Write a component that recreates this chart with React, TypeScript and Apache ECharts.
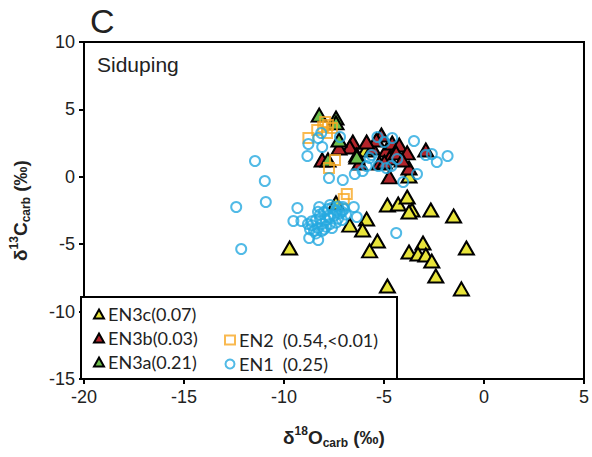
import React, { useEffect, useRef } from "react";
import * as echarts from "echarts";

const xTicks = [-20, -15, -10, -5, 0, 5];
const yTicks = [-15, -10, -5, 0, 5, 10];

const en3c: [number, number][] = [
  [-9.72, -5.28], [-4.83, -2.09], [-4.29, -2.02], [-3.84, -1.5], [-3.6, -2.46],
  [-2.66, -2.46], [-1.52, -2.91], [-5.87, -3.13], [-6.71, -3.58], [-6.07, -3.95],
  [-5.33, -4.76], [-5.72, -5.5], [-3.75, -5.58], [-3.05, -4.91], [-3.3, -5.73],
  [-2.91, -5.8], [-2.61, -6.25], [-2.41, -7.36], [-0.88, -5.28], [-4.83, -8.1],
  [-1.13, -8.32], [-5.92, 1.99], [-3.75, 0.06], [-7.4, -1.94], [-3.75, -2.61],
];
const en3b: [number, number][] = [
  [-6.56, 2.58], [-6.71, 2.21], [-7.25, 2.14], [-8.09, 1.25], [-6.36, 1.62],
  [-5.13, 3.1], [-5.57, 2.14], [-4.88, 1.99], [-4.59, 2.51], [-4.24, 2.36],
  [-3.84, 1.77], [-4.73, 1.39], [-5.23, 1.02], [-2.91, 1.99], [-3.75, 0.65],
  [-4.73, -0.01], [-4.39, 1.77], [-6.22, 1.02], [-5.38, 2.73], [-5.87, 2.58],
  [-4.09, 1.25], [-4.98, 1.1],
];
const en3a: [number, number][] = [
  [-8.24, 4.58], [-7.4, 4.36], [-7.25, 2.73], [-6.36, 1.47], [-7.8, 1.25], [-7.4, 4.0],
];
const en2: [number, number][] = [
  [-8.34, 3.47], [-8.04, 3.69], [-7.8, 3.84], [-7.6, 3.62], [-7.85, 3.25],
  [-8.78, 2.88], [-7.45, 1.25], [-7.75, 0.65], [-6.86, -1.28], [-7.01, -1.65], [-7.94, 4.07],
];
const en1: [number, number][] = [
  [-10.96, -0.31], [-10.91, -1.87], [-8.83, 1.54], [-8.78, 2.43], [-8.29, 2.88],
  [-8.14, 3.25], [-8.09, 2.21], [-7.2, 2.95], [-7.75, -0.09], [-7.06, -0.24],
  [-6.46, 0.21], [-6.07, 0.43], [-5.87, 0.8], [-5.62, 1.62], [-5.72, 1.39],
  [-5.33, 2.95], [-4.98, 2.58], [-4.59, 2.88], [-4.34, 1.32], [-4.63, 0.8],
  [-4.88, 0.65], [-5.28, 0.8], [-4.04, -0.39], [-3.35, 0.21], [-3.5, 2.66],
  [-2.91, 1.62], [-2.61, 1.69], [-2.36, 1.1], [-1.82, 1.54], [-11.45, 1.17],
  [-12.39, -2.24], [-12.14, -5.36], [-9.33, -2.31], [-9.53, -3.28], [-9.13, -3.28],
  [-8.24, -2.24], [-7.7, -2.09], [-7.06, -2.24], [-6.51, -2.24], [-6.36, -2.98],
  [-8.74, -4.54], [-8.29, -4.69], [-4.39, -4.17],
  [-8.6, -3.6], [-8.4, -3.2], [-8.2, -2.8], [-8.0, -2.6], [-7.8, -2.4], [-7.6, -2.3],
  [-7.4, -2.5], [-7.2, -2.7], [-8.5, -4.0], [-8.3, -3.8], [-8.1, -3.5], [-7.9, -3.2],
  [-7.7, -3.0], [-7.5, -2.9], [-7.3, -3.1], [-7.1, -2.6], [-8.7, -3.9], [-8.4, -4.2],
  [-8.1, -4.0], [-7.9, -3.7], [-7.7, -3.5], [-7.4, -3.4], [-7.1, -3.2], [-6.9, -2.8],
  [-8.2, -3.1], [-8.0, -3.9], [-7.6, -3.8], [-8.6, -3.3], [-8.8, -3.5], [-7.8, -2.9],
  [-7.3, -2.2], [-7.0, -2.4], [-8.3, -2.6],
];

const names = ["EN3c(0.07)", "EN3b(0.03)", "EN3a(0.21)", "EN2  (0.54,<0.01)", "EN1  (0.25)"];

export default function App() {
  const ref = useRef<HTMLDivElement>(null);
  useEffect(() => {
    if (!ref.current) return;
    const chart = echarts.init(ref.current, undefined, { renderer: "svg" });
    const tri = (name: string, data: [number, number][], color: string) => ({
      name,
      type: "scatter",
      data,
      symbol: "triangle",
      symbolSize: [15, 13],
      itemStyle: { color, borderColor: "#000", borderWidth: 2, opacity: 1 },
      emphasis: { disabled: true },
    });
    const font = "Liberation Sans, Arial";
    const axisCommon = {
      axisLine: { show: true, onZero: false, lineStyle: { color: "#000", width: 2 } },
      axisTick: { show: true, inside: false, length: 5, lineStyle: { color: "#000", width: 2 } },
      splitLine: { show: false },
      axisLabel: { color: "#222", fontSize: 18, fontFamily: font, margin: 9 },
    };
    const rich = {
      a: { fontSize: 19, fontWeight: "bold", color: "#222", fontFamily: font, lineHeight: 24 },
      s: { fontSize: 12, fontWeight: "bold", color: "#222", fontFamily: font, verticalAlign: "top", lineHeight: 24 },
      b: { fontSize: 12, fontWeight: "bold", color: "#222", fontFamily: font, verticalAlign: "bottom", lineHeight: 19 },
    };
    const legendText = { fontSize: 18, color: "#222", fontFamily: "Lato", padding: [0, 0, 0, -1] };
    chart.setOption({
      animation: false,
      grid: { left: 81, right: 5, top: 42, bottom: 78, show: true, borderColor: "#000", borderWidth: 2 },
      xAxis: {
        type: "value",
        min: xTicks[0],
        max: xTicks[xTicks.length - 1],
        interval: 5,
        ...axisCommon,
        name: "{a|δ}{s|18}{a|O}{b|carb}{a| (‰)}",
        nameLocation: "middle",
        nameGap: 46,
        nameTextStyle: { rich },
      },
      yAxis: {
        type: "value",
        min: yTicks[0],
        max: yTicks[yTicks.length - 1],
        interval: 5,
        ...axisCommon,
        name: "{a|δ}{s|13}{a|C}{b|carb}{a| (‰)}",
        nameLocation: "middle",
        nameRotate: 90,
        nameGap: 52,
        nameTextStyle: { rich },
      },
      legend: [
        {
          data: [names[0], names[1], names[2]],
          orient: "vertical",
          left: 88,
          top: 300,
          itemGap: 6,
          itemWidth: 10,
          itemHeight: 9,
          textStyle: legendText,
          selectedMode: false,
          z: 20,
        },
        {
          data: [names[3], names[4]],
          orient: "vertical",
          left: 219,
          top: 326,
          itemGap: 6,
          itemWidth: 10,
          itemHeight: 9,
          textStyle: legendText,
          selectedMode: false,
          z: 20,
        },
      ],
      graphic: [
        {
          type: "rect",
          shape: { x: 81, y: 297, width: 316, height: 82 },
          style: { fill: "#fff", stroke: "#000", lineWidth: 2 },
          z: 5,
          silent: true,
        },
        {
          type: "text",
          left: 90,
          top: 4,
          style: { text: "C", fontSize: 34, fill: "#222", fontFamily: font },
        },
        {
          type: "text",
          left: 97,
          top: 54,
          style: { text: "Siduping", fontSize: 21, fill: "#222", fontFamily: font },
          z: 10,
        },
      ],
      series: [
        tri(names[0], en3c, "#E8E43A"),
        tri(names[1], en3b, "#B3242A"),
        tri(names[2], en3a, "#6DBE4B"),
        {
          name: names[3],
          type: "scatter",
          data: en2,
          symbol: "rect",
          symbolSize: 10,
          itemStyle: { color: "rgba(255,255,255,0)", borderColor: "#F7A823", borderWidth: 2 },
          emphasis: { disabled: true },
        },
        {
          name: names[4],
          type: "scatter",
          data: en1,
          symbol: "circle",
          symbolSize: 10,
          itemStyle: { color: "rgba(255,255,255,0)", borderColor: "#26A9E0", borderWidth: 2 },
          emphasis: { disabled: true },
        },
      ],
    });
    return () => chart.dispose();
  }, []);
  return <div ref={ref} style={{ width: 592, height: 457, position: "absolute", left: 0, top: 0 }} />;
}
